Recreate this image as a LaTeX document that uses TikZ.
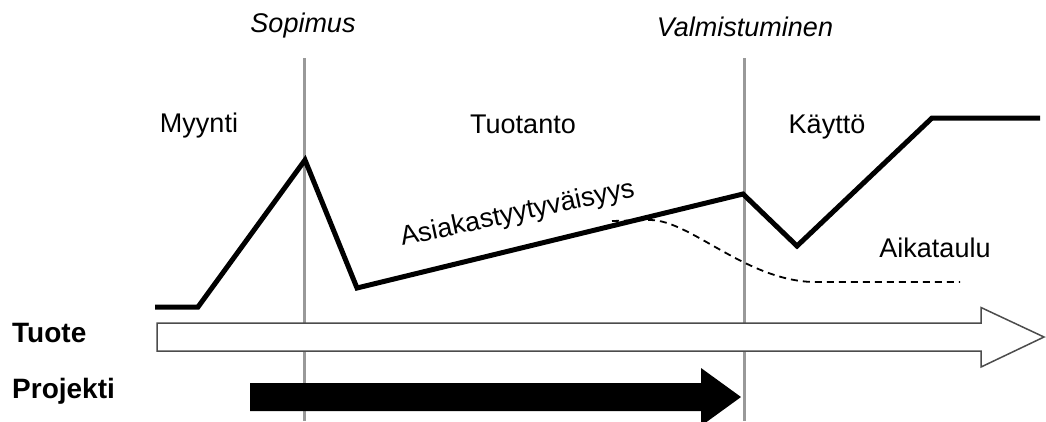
\documentclass[tikz,border=0pt]{standalone}
\usepackage{fontspec}
\setmainfont{Liberation Sans}
\begin{document}
\begin{tikzpicture}[x=1pt,y=-1pt,
  lbl/.style={font=\fontsize{27}{30}\selectfont,anchor=base,inner sep=0pt},
  ilbl/.style={lbl,font=\fontsize{27}{30}\selectfont\itshape},
  blbl/.style={lbl,font=\fontsize{28}{30}\selectfont\bfseries,anchor=base west},
  milestone/.style={draw=black!40,line width=3pt},
  curve/.style={line width=5pt,line join=miter,miter limit=20},
  sched/.style={line width=1.8pt,dash pattern=on 7pt off 5pt}]
\useasboundingbox (0,0) rectangle (1046,421);
% milestone lines
\coordinate (s1) at (304,58);
\coordinate (s2) at (304,421);
\coordinate (v1) at (744,58);
\coordinate (v2) at (744,421);
\draw[milestone] (s1) -- (s2);
\draw[milestone] (v1) -- (v2);
% labels
\node[ilbl] (sop) at (303,32) {Sopimus};
\node[ilbl] (val) at (745,36) {Valmistuminen};
\node[lbl] (myy) at (199,132) {Myynti};
\node[lbl] (tuo) at (523,133) {Tuotanto};
\node[lbl] (kay) at (827,133) {Käyttö};
\node[lbl] (aik) at (935,257) {Aikataulu};
\node[lbl,rotate=12] (asi) at (519,221) {Asiakastyytyväisyys};
\node[blbl] (tlab) at (12,342) {Tuote};
\node[blbl] (plab) at (12,398) {Projekti};
% satisfaction curve
\coordinate (c0) at (155,307);
\coordinate (c1) at (198,307);
\coordinate (c2) at (305,160);
\coordinate (c3) at (357,288);
\coordinate (c4) at (743,194);
\coordinate (c5) at (797,246);
\coordinate (c6) at (932,118);
\coordinate (c7) at (1040,118);
\draw[curve] (c0) -- (c1) -- (c2) -- (c3) -- (c4) -- (c5) -- (c6) -- (c7);
% schedule
\coordinate (d0) at (612,221);
\coordinate (d1) at (650,220);
\coordinate (d2) at (813,282);
\coordinate (d3) at (960,282);
\draw[sched] (d0) -- (d1) .. controls (690,220) and (745,280) .. (d2) -- (d3);
% product arrow
\draw[draw=black!70,line width=1.5pt,fill=white,line join=miter]
  (157,323) -- (981,323) -- (981,307.5) -- (1044,337) -- (981,367) -- (981,351) -- (157,351) -- cycle;
% project arrow
\fill[black] (250,383) -- (701,383) -- (701,368) -- (741,397) -- (701,426) -- (701,411) -- (250,411) -- cycle;
\end{tikzpicture}
\end{document}
